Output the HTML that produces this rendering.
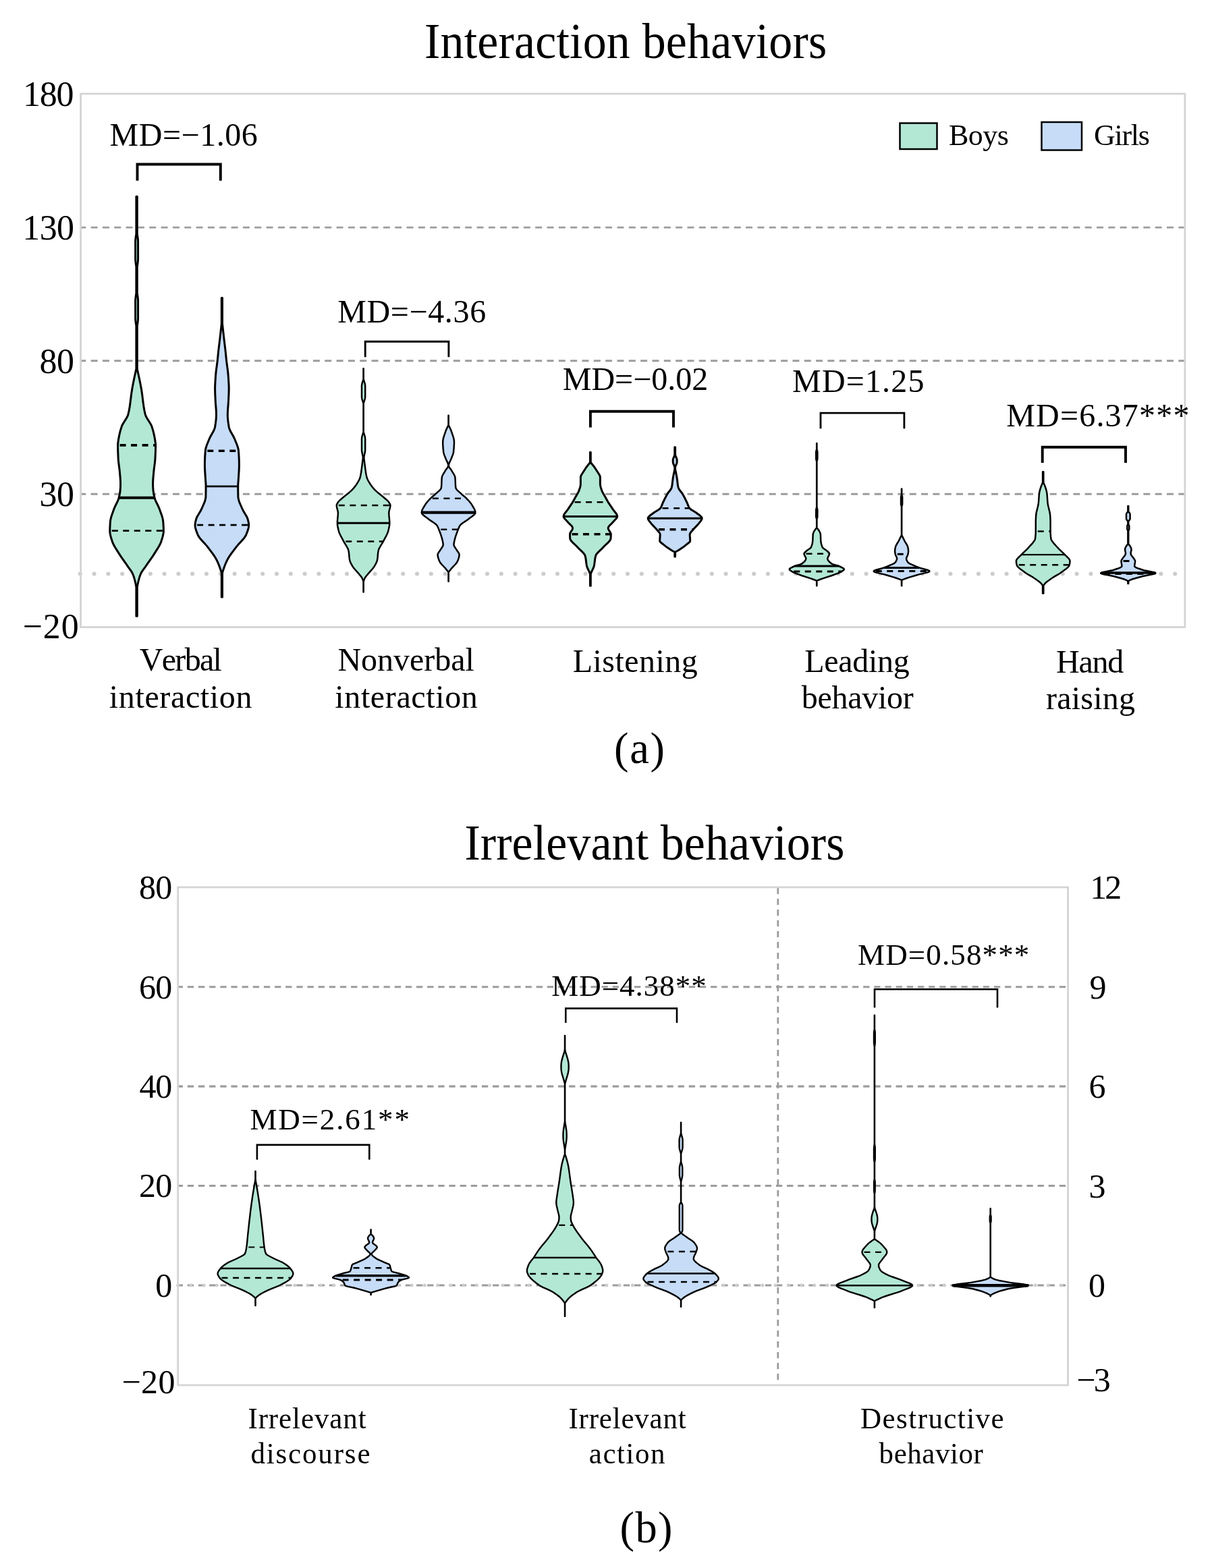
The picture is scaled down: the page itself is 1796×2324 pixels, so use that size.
<!DOCTYPE html>
<html lang="en"><head><meta charset="utf-8"><title>Interaction and irrelevant behaviors</title>
<style>
html,body{margin:0;padding:0;background:#fff;overflow:hidden}
svg{display:block}
text{font-family:"Liberation Serif", serif;fill:#000;white-space:pre;font-kerning:none}
</style></head>
<body>
<svg width="1796" height="2324" viewBox="0 0 1796 2324">
<rect width="1796" height="2324" fill="#fff"/>
<line x1="119.6" y1="337.1" x2="1755.9" y2="337.1" stroke="#9c9c9c" stroke-width="2.9" stroke-dasharray="10 7.33" stroke-dashoffset="2.3"/>
<line x1="119.6" y1="534.7" x2="1755.9" y2="534.7" stroke="#9c9c9c" stroke-width="2.9" stroke-dasharray="10 7.33" stroke-dashoffset="2.3"/>
<line x1="119.6" y1="732.3" x2="1755.9" y2="732.3" stroke="#9c9c9c" stroke-width="2.9" stroke-dasharray="10 7.33" stroke-dashoffset="2.3"/>
<line x1="118.8" y1="850.5" x2="1755.9" y2="850.5" stroke="#cccccc" stroke-width="6.1" stroke-linecap="round" stroke-dasharray="0.01 20.79"/>
<path d="M201.90,291.3 L201.90,346.9 L201.22,351.3 L200.86,354.1 L200.65,356.9 L200.60,359.3 L200.63,384.5 L200.74,386.5 L200.98,388.9 L201.90,395.3 L201.90,434.5 L200.89,441.7 L200.66,444.5 L200.60,446.9 L200.63,472.5 L200.75,474.5 L201.00,476.9 L201.90,482.9 L201.90,546.9 L199.93,555.7 L198.39,562.9 L197.03,569.7 L195.76,576.5 L194.66,583.7 L193.03,596.9 L192.25,602.5 L191.21,608.5 L190.05,613.7 L189.71,614.9 L189.26,616.1 L188.11,618.5 L186.72,620.9 L182.42,627.7 L181.33,629.7 L180.43,631.7 L179.01,636.1 L177.70,640.9 L176.69,645.3 L175.80,650.1 L174.93,655.7 L174.64,658.5 L174.61,662.1 L174.74,668.5 L175.07,676.9 L175.37,682.1 L175.79,686.1 L177.17,696.9 L178.08,706.9 L178.43,711.7 L178.58,715.3 L178.58,718.9 L178.42,722.9 L178.14,727.3 L177.78,730.1 L177.26,732.9 L176.13,737.7 L175.53,739.7 L174.93,741.3 L174.07,743.3 L170.55,750.5 L169.32,753.3 L165.85,762.9 L165.07,765.3 L164.39,767.7 L163.77,770.5 L163.41,773.3 L162.95,780.5 L162.80,786.5 L162.88,788.5 L163.11,790.5 L163.56,792.9 L164.14,795.3 L165.06,798.5 L166.43,802.9 L167.23,804.9 L168.37,807.3 L169.67,809.7 L171.09,812.1 L178.66,824.1 L181.11,827.7 L186.76,835.7 L189.79,840.1 L193.31,844.9 L194.94,847.3 L195.88,848.9 L196.64,850.5 L197.73,853.3 L198.67,856.1 L199.59,859.3 L200.38,862.5 L201.23,866.5 L201.90,870.1 L201.90,913.3 L203.30,913.3 L203.30,870.1 L203.97,866.5 L204.82,862.5 L205.61,859.3 L206.53,856.1 L207.47,853.3 L208.56,850.5 L209.32,848.9 L210.26,847.3 L211.89,844.9 L215.41,840.1 L218.44,835.7 L224.09,827.7 L226.54,824.1 L234.11,812.1 L235.53,809.7 L236.83,807.3 L237.97,804.9 L238.77,802.9 L240.14,798.5 L241.06,795.3 L241.64,792.9 L242.09,790.5 L242.32,788.5 L242.40,786.5 L242.25,780.5 L241.79,773.3 L241.43,770.5 L240.81,767.7 L240.13,765.3 L239.35,762.9 L235.88,753.3 L234.65,750.5 L231.13,743.3 L230.27,741.3 L229.67,739.7 L229.07,737.7 L227.94,732.9 L227.42,730.1 L227.06,727.3 L226.78,722.9 L226.62,718.9 L226.62,715.3 L226.77,711.7 L227.12,706.9 L228.03,696.9 L229.41,686.1 L229.83,682.1 L230.13,676.9 L230.46,668.5 L230.59,662.1 L230.56,658.5 L230.27,655.7 L229.40,650.1 L228.51,645.3 L227.50,640.9 L226.19,636.1 L224.77,631.7 L223.87,629.7 L222.78,627.7 L218.48,620.9 L217.09,618.5 L215.94,616.1 L215.49,614.9 L215.15,613.7 L213.99,608.5 L212.95,602.5 L212.17,596.9 L210.54,583.7 L209.44,576.5 L208.17,569.7 L206.81,562.9 L205.27,555.7 L203.30,546.9 L203.30,482.9 L203.98,478.5 L204.34,475.7 L204.55,472.9 L204.60,470.5 L204.57,445.3 L204.46,443.3 L204.22,440.9 L203.30,434.5 L203.30,395.3 L204.31,388.1 L204.54,385.3 L204.60,382.9 L204.57,357.3 L204.45,355.3 L204.20,352.9 L203.30,346.9 L203.30,291.3Z" fill="#b3e8d5" stroke="#000" stroke-width="3" stroke-linejoin="round"/>
<line x1="174.6" y1="659.9" x2="230.6" y2="659.9" stroke="#000" stroke-width="3.6" stroke-dasharray="9 7.5" stroke-dashoffset="-3"/>
<line x1="176.1" y1="737.8" x2="229.1" y2="737.8" stroke="#000" stroke-width="4"/>
<line x1="162.8" y1="786.6" x2="242.4" y2="786.6" stroke="#000" stroke-width="2.6" stroke-dasharray="9 7.5" stroke-dashoffset="-3"/>
<path d="M328.30,441.5 L328.30,479.9 L326.07,500.3 L323.80,519.1 L322.18,535.1 L320.44,548.3 L319.92,552.7 L319.53,557.1 L318.78,569.1 L318.65,572.7 L318.60,576.3 L318.76,583.9 L319.36,596.3 L320.27,607.9 L320.49,612.7 L320.49,615.1 L320.39,617.9 L320.19,620.7 L319.87,623.9 L319.34,627.9 L318.58,632.7 L318.32,633.9 L317.84,635.5 L317.03,637.5 L316.07,639.5 L311.82,647.1 L310.80,649.1 L310.08,650.7 L307.00,658.3 L305.96,661.1 L304.99,664.3 L304.43,667.1 L304.03,671.9 L303.66,678.3 L303.46,683.9 L303.40,689.1 L303.47,693.1 L303.67,697.5 L304.39,709.1 L304.93,716.3 L305.08,719.5 L305.07,726.7 L304.90,735.9 L304.79,737.5 L304.54,739.1 L303.84,741.9 L302.86,744.7 L301.70,747.5 L298.15,755.5 L296.65,758.3 L292.75,764.7 L291.90,766.3 L291.19,767.9 L290.65,769.5 L289.58,773.9 L289.20,776.3 L289.10,778.3 L289.19,779.9 L289.41,781.5 L289.74,783.1 L290.29,785.1 L291.24,787.9 L292.94,792.3 L293.49,793.5 L294.15,794.7 L295.48,796.7 L297.37,799.1 L299.49,801.5 L304.66,807.1 L307.05,809.9 L314.05,819.1 L316.94,823.1 L319.28,826.7 L321.05,829.9 L323.08,834.3 L325.14,839.5 L327.24,845.5 L328.24,848.7 L328.30,849.1 L328.30,885.1 L329.50,885.1 L329.50,849.1 L329.56,848.7 L330.56,845.5 L332.66,839.5 L334.72,834.3 L336.75,829.9 L338.52,826.7 L340.86,823.1 L343.75,819.1 L350.75,809.9 L353.14,807.1 L358.31,801.5 L360.43,799.1 L362.32,796.7 L363.65,794.7 L364.31,793.5 L364.86,792.3 L366.56,787.9 L367.51,785.1 L368.06,783.1 L368.39,781.5 L368.61,779.9 L368.70,778.3 L368.60,776.3 L368.22,773.9 L367.15,769.5 L366.61,767.9 L365.90,766.3 L365.05,764.7 L361.15,758.3 L359.65,755.5 L356.10,747.5 L354.94,744.7 L353.96,741.9 L353.26,739.1 L353.01,737.5 L352.90,735.9 L352.73,726.7 L352.72,719.5 L352.87,716.3 L353.41,709.1 L354.13,697.5 L354.33,693.1 L354.40,689.1 L354.34,683.9 L354.14,678.3 L353.77,671.9 L353.37,667.1 L352.81,664.3 L351.84,661.1 L350.80,658.3 L347.72,650.7 L347.00,649.1 L345.98,647.1 L341.73,639.5 L340.77,637.5 L339.96,635.5 L339.48,633.9 L339.22,632.7 L338.46,627.9 L337.93,623.9 L337.61,620.7 L337.41,617.9 L337.31,615.1 L337.31,612.7 L337.53,607.9 L338.44,596.3 L339.04,583.9 L339.20,576.3 L339.15,572.7 L339.02,569.1 L338.27,557.1 L337.88,552.7 L337.36,548.3 L335.62,535.1 L334.00,519.1 L331.73,500.3 L329.50,479.9 L329.50,441.5Z" fill="#c6dcf7" stroke="#000" stroke-width="3" stroke-linejoin="round"/>
<line x1="304.3" y1="668.3" x2="353.5" y2="668.3" stroke="#000" stroke-width="3.6" stroke-dasharray="9 7.5" stroke-dashoffset="-3"/>
<line x1="305.1" y1="720.9" x2="352.7" y2="720.9" stroke="#000" stroke-width="2.6"/>
<line x1="289.1" y1="778.1" x2="368.7" y2="778.1" stroke="#000" stroke-width="2.6" stroke-dasharray="9 7.5" stroke-dashoffset="-3"/>
<path d="M538.50,546.3 L538.50,561.9 L538.12,563.5 L536.96,567.1 L536.50,568.7 L536.12,570.7 L536.00,572.3 L536.00,587.9 L536.07,589.1 L536.24,590.3 L536.61,591.9 L538.12,596.7 L538.50,598.3 L538.50,639.5 L538.48,639.9 L538.21,641.1 L536.88,645.5 L536.46,647.1 L536.11,649.1 L536.00,650.7 L536.03,667.9 L536.29,669.9 L536.76,671.9 L537.66,676.3 L537.82,677.5 L537.88,678.7 L537.27,683.9 L535.56,697.1 L535.03,700.7 L534.46,703.9 L533.95,706.3 L533.43,708.3 L532.85,709.9 L532.10,711.5 L530.77,713.9 L528.55,717.5 L527.19,719.5 L525.68,721.5 L524.37,723.1 L522.61,725.1 L521.11,726.7 L519.86,727.9 L517.51,729.9 L511.49,734.7 L504.42,740.7 L502.30,742.7 L500.94,744.3 L499.74,746.3 L499.32,747.1 L498.99,747.9 L498.82,748.7 L498.80,749.1 L498.88,750.3 L499.06,751.5 L499.43,753.1 L500.49,757.1 L500.79,758.7 L500.89,759.9 L500.87,761.9 L500.75,763.9 L500.12,770.7 L499.96,773.1 L499.90,775.5 L500.00,777.5 L500.26,779.5 L500.70,781.9 L501.82,786.7 L502.16,787.9 L503.20,790.7 L504.92,794.3 L508.17,800.3 L510.04,803.9 L513.70,809.9 L514.62,811.5 L515.43,813.1 L515.94,814.3 L516.45,815.9 L516.87,818.3 L517.14,820.7 L517.66,826.7 L518.14,829.9 L518.44,831.1 L518.84,832.3 L519.33,833.5 L520.09,835.1 L522.30,839.1 L523.62,841.1 L525.57,843.5 L530.55,849.1 L534.84,854.3 L536.28,856.3 L536.74,857.1 L537.10,857.9 L538.07,860.7 L538.37,861.9 L538.50,862.7 L538.50,877.6 L538.70,877.6 L538.70,862.7 L538.83,861.9 L539.13,860.7 L540.10,857.9 L540.46,857.1 L540.92,856.3 L542.36,854.3 L546.65,849.1 L551.63,843.5 L553.58,841.1 L554.90,839.1 L557.11,835.1 L557.87,833.5 L558.36,832.3 L558.76,831.1 L559.06,829.9 L559.54,826.7 L560.06,820.7 L560.33,818.3 L560.75,815.9 L561.26,814.3 L561.77,813.1 L562.58,811.5 L563.50,809.9 L567.16,803.9 L569.03,800.3 L572.28,794.3 L574.00,790.7 L575.04,787.9 L575.38,786.7 L576.50,781.9 L576.94,779.5 L577.20,777.5 L577.30,775.5 L577.24,773.1 L577.08,770.7 L576.45,763.9 L576.33,761.9 L576.31,759.9 L576.41,758.7 L576.71,757.1 L577.77,753.1 L578.14,751.5 L578.32,750.3 L578.40,749.1 L578.38,748.7 L578.21,747.9 L577.88,747.1 L577.46,746.3 L576.26,744.3 L574.90,742.7 L572.78,740.7 L565.71,734.7 L559.69,729.9 L557.34,727.9 L556.09,726.7 L554.59,725.1 L552.83,723.1 L551.52,721.5 L550.01,719.5 L548.65,717.5 L546.43,713.9 L545.10,711.5 L544.35,709.9 L543.77,708.3 L543.25,706.3 L542.74,703.9 L542.17,700.7 L541.64,697.1 L539.93,683.9 L539.32,678.7 L539.38,677.5 L539.54,676.3 L540.44,671.9 L540.91,669.9 L541.17,667.9 L541.20,650.7 L541.09,649.1 L540.74,647.1 L540.32,645.5 L538.99,641.1 L538.72,639.9 L538.70,639.5 L538.70,598.3 L539.08,596.7 L540.59,591.9 L540.96,590.3 L541.13,589.1 L541.20,587.9 L541.20,572.3 L541.08,570.7 L540.70,568.7 L540.24,567.1 L539.08,563.5 L538.70,561.9 L538.70,546.3Z" fill="#b3e8d5" stroke="#000" stroke-width="2.5" stroke-linejoin="round"/>
<line x1="498.8" y1="749.0" x2="578.4" y2="749.0" stroke="#000" stroke-width="2.6" stroke-dasharray="9 7.5" stroke-dashoffset="-3"/>
<line x1="499.9" y1="775.3" x2="577.3" y2="775.3" stroke="#000" stroke-width="3"/>
<line x1="509.3" y1="802.5" x2="567.9" y2="802.5" stroke="#000" stroke-width="2.6" stroke-dasharray="9 7.5" stroke-dashoffset="-3"/>
<path d="M664.50,615.7 L664.50,630.1 L662.34,634.5 L661.11,637.3 L660.34,639.3 L657.99,646.1 L657.15,648.9 L656.59,651.3 L656.30,653.3 L656.20,655.3 L656.29,659.3 L656.53,663.3 L657.03,668.5 L657.21,670.1 L657.42,671.3 L657.73,672.5 L658.26,674.1 L660.79,680.5 L661.49,682.1 L663.05,685.3 L663.71,686.9 L664.07,688.1 L664.27,689.3 L664.29,690.1 L664.16,690.9 L663.87,691.7 L663.22,692.9 L660.01,697.3 L658.86,699.3 L656.89,702.5 L655.81,704.5 L655.16,706.1 L654.86,707.3 L654.61,709.7 L654.22,718.9 L653.97,722.1 L653.77,723.3 L653.23,724.5 L652.69,725.3 L652.03,726.1 L650.43,727.7 L646.79,730.9 L644.20,733.3 L640.32,736.5 L638.51,738.1 L635.44,741.3 L632.65,744.5 L631.12,746.5 L630.04,748.1 L627.41,752.5 L626.31,754.5 L625.58,756.1 L625.16,757.3 L624.90,758.5 L624.80,759.7 L624.92,760.5 L625.08,760.9 L625.54,761.7 L626.56,762.9 L627.91,764.1 L629.48,765.3 L633.98,768.5 L637.04,770.9 L643.62,775.3 L645.24,776.5 L646.19,777.3 L647.34,778.5 L647.89,779.3 L648.76,780.9 L649.61,782.9 L652.80,791.3 L653.76,794.1 L654.63,796.9 L655.47,800.1 L656.33,804.1 L656.60,805.7 L656.70,807.3 L656.60,808.1 L656.36,808.9 L655.55,810.5 L653.13,814.1 L651.92,816.1 L649.91,818.9 L649.41,819.7 L649.00,820.5 L648.72,821.3 L648.60,822.1 L648.65,823.3 L648.88,824.9 L649.38,826.9 L650.35,829.7 L651.32,832.1 L652.25,833.7 L653.14,834.9 L654.51,836.5 L659.82,842.1 L664.36,847.7 L664.50,848.1 L664.50,861.7 L664.70,861.7 L664.70,848.1 L664.84,847.7 L669.38,842.1 L674.69,836.5 L676.06,834.9 L676.95,833.7 L677.88,832.1 L678.85,829.7 L679.82,826.9 L680.32,824.9 L680.55,823.3 L680.60,822.1 L680.48,821.3 L680.20,820.5 L679.79,819.7 L679.29,818.9 L677.28,816.1 L676.07,814.1 L673.65,810.5 L672.84,808.9 L672.60,808.1 L672.50,807.3 L672.60,805.7 L672.87,804.1 L673.73,800.1 L674.57,796.9 L675.44,794.1 L676.40,791.3 L679.59,782.9 L680.44,780.9 L681.31,779.3 L681.86,778.5 L683.01,777.3 L683.96,776.5 L685.58,775.3 L692.16,770.9 L695.22,768.5 L699.72,765.3 L701.29,764.1 L702.64,762.9 L703.66,761.7 L704.12,760.9 L704.28,760.5 L704.40,759.7 L704.30,758.5 L704.04,757.3 L703.62,756.1 L702.89,754.5 L701.79,752.5 L699.16,748.1 L698.08,746.5 L696.55,744.5 L693.76,741.3 L690.69,738.1 L688.88,736.5 L685.00,733.3 L682.41,730.9 L678.77,727.7 L677.17,726.1 L676.51,725.3 L675.97,724.5 L675.43,723.3 L675.23,722.1 L674.98,718.9 L674.59,709.7 L674.34,707.3 L674.04,706.1 L673.39,704.5 L672.31,702.5 L670.34,699.3 L669.19,697.3 L665.98,692.9 L665.33,691.7 L665.04,690.9 L664.91,690.1 L664.93,689.3 L665.13,688.1 L665.49,686.9 L666.15,685.3 L667.71,682.1 L668.41,680.5 L670.94,674.1 L671.47,672.5 L671.78,671.3 L671.99,670.1 L672.17,668.5 L672.67,663.3 L672.91,659.3 L673.00,655.3 L672.90,653.3 L672.61,651.3 L672.05,648.9 L671.21,646.1 L668.86,639.3 L668.09,637.3 L666.86,634.5 L664.70,630.1 L664.70,615.7Z" fill="#c6dcf7" stroke="#000" stroke-width="2.5" stroke-linejoin="round"/>
<line x1="637.9" y1="738.7" x2="691.3" y2="738.7" stroke="#000" stroke-width="2.6" stroke-dasharray="9 7.5" stroke-dashoffset="-3"/>
<line x1="624.8" y1="759.7" x2="704.4" y2="759.7" stroke="#000" stroke-width="4.2"/>
<line x1="650.3" y1="784.7" x2="678.9" y2="784.7" stroke="#000" stroke-width="2.6" stroke-dasharray="9 7.5" stroke-dashoffset="-3"/>
<path d="M874.50,670.2 L874.50,685.4 L870.62,690.2 L867.71,694.2 L862.06,703.0 L861.39,704.2 L860.86,705.4 L860.51,706.6 L860.41,707.4 L860.40,717.4 L860.27,719.0 L859.98,720.6 L859.45,722.6 L858.17,726.6 L857.72,727.8 L856.97,729.4 L856.12,731.0 L853.57,735.4 L850.07,741.8 L847.92,745.4 L841.23,755.4 L837.43,760.2 L836.32,761.8 L835.68,763.0 L835.37,763.8 L835.17,764.6 L835.10,765.4 L835.21,766.2 L835.53,767.0 L836.01,767.8 L836.62,768.6 L837.71,769.8 L840.07,772.2 L842.14,774.6 L846.62,779.0 L847.30,779.8 L847.86,780.6 L848.44,781.8 L848.59,782.6 L848.59,783.0 L848.46,783.8 L848.17,784.6 L847.54,785.8 L845.94,788.2 L845.22,789.4 L844.70,790.6 L844.52,791.4 L844.55,794.6 L844.74,798.2 L844.93,799.0 L845.45,800.2 L846.53,801.8 L848.33,803.8 L853.90,809.0 L857.67,813.0 L862.30,817.4 L863.88,819.0 L864.94,820.2 L865.86,821.4 L866.59,822.6 L866.96,823.4 L867.43,825.0 L867.91,827.4 L868.98,835.8 L869.32,837.8 L869.67,839.4 L870.04,840.6 L870.66,842.2 L873.51,848.2 L874.47,850.6 L874.50,868.2 L875.30,868.2 L875.33,850.6 L876.29,848.2 L879.14,842.2 L879.76,840.6 L880.13,839.4 L880.48,837.8 L880.82,835.8 L881.89,827.4 L882.37,825.0 L882.84,823.4 L883.21,822.6 L883.94,821.4 L884.86,820.2 L885.92,819.0 L887.50,817.4 L892.13,813.0 L895.90,809.0 L901.47,803.8 L903.27,801.8 L904.35,800.2 L904.87,799.0 L905.06,798.2 L905.25,794.6 L905.28,791.4 L905.10,790.6 L904.58,789.4 L903.86,788.2 L902.26,785.8 L901.63,784.6 L901.34,783.8 L901.21,783.0 L901.21,782.6 L901.36,781.8 L901.94,780.6 L902.50,779.8 L903.18,779.0 L907.66,774.6 L909.73,772.2 L912.09,769.8 L913.18,768.6 L913.79,767.8 L914.27,767.0 L914.59,766.2 L914.70,765.4 L914.63,764.6 L914.43,763.8 L914.12,763.0 L913.48,761.8 L912.37,760.2 L908.57,755.4 L901.88,745.4 L899.73,741.8 L896.23,735.4 L893.68,731.0 L892.83,729.4 L892.08,727.8 L891.63,726.6 L890.35,722.6 L889.82,720.6 L889.53,719.0 L889.40,717.4 L889.39,707.4 L889.29,706.6 L888.94,705.4 L888.41,704.2 L887.74,703.0 L882.09,694.2 L879.18,690.2 L875.30,685.4 L875.30,670.2Z" fill="#b3e8d5" stroke="#000" stroke-width="3" stroke-linejoin="round"/>
<line x1="848.6" y1="744.3" x2="901.2" y2="744.3" stroke="#000" stroke-width="2.6" stroke-dasharray="9 7.5" stroke-dashoffset="-3"/>
<line x1="835.1" y1="765.4" x2="914.7" y2="765.4" stroke="#000" stroke-width="3"/>
<line x1="844.5" y1="791.8" x2="905.3" y2="791.8" stroke="#000" stroke-width="3.6" stroke-dasharray="9 7.5" stroke-dashoffset="-3"/>
<path d="M999.80,662.7 L999.80,674.7 L999.51,675.5 L998.19,678.3 L997.71,679.5 L997.30,681.1 L997.20,682.3 L997.21,684.7 L997.30,685.5 L997.47,686.3 L998.02,687.9 L999.51,691.1 L999.80,691.9 L999.80,695.5 L999.77,695.9 L998.32,702.7 L997.50,707.1 L997.01,710.3 L996.00,718.7 L995.48,721.5 L995.20,722.7 L994.94,723.5 L994.57,724.3 L993.85,725.5 L992.98,726.7 L989.82,730.7 L989.02,731.9 L987.88,733.9 L985.38,738.7 L982.11,745.5 L980.36,749.9 L979.82,751.1 L979.18,752.3 L978.37,753.5 L977.56,754.3 L975.93,755.5 L970.60,758.7 L969.37,759.5 L963.00,764.3 L961.66,765.5 L960.96,766.3 L960.47,767.1 L960.31,767.5 L960.20,768.3 L960.24,768.7 L960.44,769.5 L960.79,770.3 L961.26,771.1 L962.13,772.3 L964.95,775.9 L966.66,777.9 L972.00,783.5 L973.66,785.5 L976.54,788.7 L977.15,789.5 L977.65,790.3 L978.12,791.5 L978.20,792.3 L978.14,794.3 L977.79,799.1 L977.70,801.1 L977.73,801.9 L977.85,802.3 L978.06,802.7 L978.71,803.5 L979.58,804.3 L982.70,806.7 L985.61,809.1 L988.28,811.1 L991.16,813.1 L994.23,815.1 L996.23,816.3 L999.80,818.3 L999.80,825.1 L1000.60,825.1 L1000.60,818.3 L1004.17,816.3 L1006.17,815.1 L1009.24,813.1 L1012.12,811.1 L1014.79,809.1 L1017.70,806.7 L1020.82,804.3 L1021.69,803.5 L1022.34,802.7 L1022.55,802.3 L1022.67,801.9 L1022.70,801.1 L1022.61,799.1 L1022.26,794.3 L1022.20,792.3 L1022.28,791.5 L1022.75,790.3 L1023.25,789.5 L1023.86,788.7 L1026.74,785.5 L1028.40,783.5 L1033.74,777.9 L1035.45,775.9 L1038.27,772.3 L1039.14,771.1 L1039.61,770.3 L1039.96,769.5 L1040.16,768.7 L1040.20,768.3 L1040.09,767.5 L1039.93,767.1 L1039.44,766.3 L1038.74,765.5 L1037.40,764.3 L1031.03,759.5 L1029.80,758.7 L1024.47,755.5 L1022.84,754.3 L1022.03,753.5 L1021.22,752.3 L1020.58,751.1 L1020.04,749.9 L1018.29,745.5 L1015.02,738.7 L1012.52,733.9 L1011.38,731.9 L1010.58,730.7 L1007.42,726.7 L1006.55,725.5 L1005.83,724.3 L1005.46,723.5 L1005.20,722.7 L1004.92,721.5 L1004.40,718.7 L1003.39,710.3 L1002.90,707.1 L1002.08,702.7 L1000.63,695.9 L1000.60,695.5 L1000.60,691.9 L1000.89,691.1 L1002.21,688.3 L1002.69,687.1 L1003.10,685.5 L1003.20,684.3 L1003.19,681.9 L1003.10,681.1 L1002.93,680.3 L1002.38,678.7 L1000.89,675.5 L1000.60,674.7 L1000.60,662.7Z" fill="#c6dcf7" stroke="#000" stroke-width="3" stroke-linejoin="round"/>
<line x1="978.6" y1="753.2" x2="1021.8" y2="753.2" stroke="#000" stroke-width="2.6" stroke-dasharray="9 7.5" stroke-dashoffset="-3"/>
<line x1="960.2" y1="768.2" x2="1040.2" y2="768.2" stroke="#000" stroke-width="3"/>
<line x1="973.0" y1="784.7" x2="1027.4" y2="784.7" stroke="#000" stroke-width="3.6" stroke-dasharray="9 7.5" stroke-dashoffset="-3"/>
<path d="M1210.20,657.0 L1210.20,665.8 L1210.16,666.2 L1209.45,668.6 L1209.30,669.4 L1209.25,670.2 L1209.28,680.2 L1209.50,681.4 L1210.20,683.8 L1210.20,751.8 L1210.13,752.2 L1209.42,754.6 L1209.29,755.4 L1209.25,756.2 L1209.26,765.8 L1209.42,767.0 L1210.13,769.4 L1210.20,769.8 L1210.20,781.8 L1210.14,782.2 L1207.97,785.0 L1206.62,787.0 L1205.57,789.0 L1204.99,790.6 L1204.80,791.4 L1204.67,792.6 L1204.36,800.6 L1204.25,802.2 L1204.05,803.8 L1203.65,805.8 L1203.23,807.4 L1202.55,809.4 L1201.90,811.0 L1201.38,811.8 L1200.09,813.0 L1196.05,815.8 L1194.51,817.0 L1192.47,819.0 L1191.81,819.8 L1191.60,820.2 L1191.50,820.6 L1191.51,821.0 L1191.81,822.2 L1192.39,823.4 L1193.72,825.8 L1194.06,826.6 L1194.26,827.4 L1194.29,828.2 L1194.14,829.0 L1193.82,829.8 L1193.36,830.6 L1192.43,831.8 L1191.24,833.0 L1188.83,835.0 L1188.30,835.4 L1187.60,835.8 L1185.42,836.6 L1179.89,838.2 L1177.62,839.0 L1173.25,841.0 L1171.72,841.8 L1170.55,842.6 L1170.15,843.0 L1169.89,843.4 L1169.80,843.8 L1169.89,844.2 L1170.13,844.6 L1170.50,845.0 L1171.51,845.8 L1173.93,847.4 L1175.43,848.2 L1177.21,849.0 L1180.23,850.2 L1187.83,853.0 L1201.36,857.4 L1205.83,859.0 L1210.04,860.6 L1210.20,861.0 L1210.20,868.2 L1210.40,868.2 L1210.40,861.0 L1210.56,860.6 L1214.77,859.0 L1219.24,857.4 L1232.77,853.0 L1240.37,850.2 L1243.39,849.0 L1245.17,848.2 L1246.67,847.4 L1249.09,845.8 L1250.10,845.0 L1250.47,844.6 L1250.71,844.2 L1250.80,843.8 L1250.71,843.4 L1250.45,843.0 L1250.05,842.6 L1248.88,841.8 L1247.35,841.0 L1242.98,839.0 L1240.71,838.2 L1235.18,836.6 L1233.00,835.8 L1232.30,835.4 L1231.77,835.0 L1229.36,833.0 L1228.17,831.8 L1227.24,830.6 L1226.78,829.8 L1226.46,829.0 L1226.31,828.2 L1226.34,827.4 L1226.54,826.6 L1226.88,825.8 L1228.21,823.4 L1228.79,822.2 L1229.09,821.0 L1229.10,820.6 L1229.00,820.2 L1228.79,819.8 L1228.13,819.0 L1226.09,817.0 L1224.55,815.8 L1220.51,813.0 L1219.22,811.8 L1218.70,811.0 L1218.05,809.4 L1217.37,807.4 L1216.95,805.8 L1216.55,803.8 L1216.35,802.2 L1216.24,800.6 L1215.93,792.6 L1215.80,791.4 L1215.61,790.6 L1215.03,789.0 L1213.98,787.0 L1212.63,785.0 L1210.46,782.2 L1210.40,781.8 L1210.40,769.8 L1210.47,769.4 L1211.18,767.0 L1211.34,765.8 L1211.35,756.2 L1211.31,755.4 L1211.18,754.6 L1210.47,752.2 L1210.40,751.8 L1210.40,683.8 L1211.10,681.4 L1211.32,680.2 L1211.35,670.2 L1211.30,669.4 L1211.15,668.6 L1210.44,666.2 L1210.40,665.8 L1210.40,657.0Z" fill="#b3e8d5" stroke="#000" stroke-width="2.5" stroke-linejoin="round"/>
<line x1="1191.5" y1="820.7" x2="1229.1" y2="820.7" stroke="#000" stroke-width="2.6" stroke-dasharray="9 7.5" stroke-dashoffset="-3"/>
<line x1="1177.4" y1="839.1" x2="1243.2" y2="839.1" stroke="#000" stroke-width="3"/>
<line x1="1173.3" y1="847.0" x2="1247.3" y2="847.0" stroke="#000" stroke-width="3" stroke-dasharray="9 7.5" stroke-dashoffset="-3"/>
<path d="M1336.00,724.6 L1336.00,733.0 L1335.93,733.4 L1335.22,735.8 L1335.09,736.6 L1335.05,737.4 L1335.06,747.0 L1335.22,748.2 L1335.93,750.6 L1336.00,751.0 L1336.00,793.0 L1335.90,793.4 L1331.70,801.8 L1330.79,803.4 L1328.59,807.0 L1327.75,808.6 L1327.11,810.2 L1326.57,812.6 L1326.29,814.2 L1326.12,815.8 L1326.11,817.0 L1326.24,818.6 L1326.72,821.4 L1326.95,822.2 L1327.27,823.0 L1328.61,825.8 L1329.00,827.0 L1329.09,828.2 L1328.98,829.0 L1328.76,829.8 L1328.44,830.6 L1327.81,831.8 L1327.05,833.0 L1326.45,833.8 L1325.46,834.6 L1323.27,835.8 L1313.87,839.8 L1309.80,841.4 L1307.33,842.2 L1299.86,844.2 L1297.29,845.0 L1296.27,845.4 L1295.48,845.8 L1294.98,846.2 L1294.80,846.6 L1294.98,847.0 L1295.49,847.4 L1296.30,847.8 L1297.37,848.2 L1298.64,848.6 L1301.69,849.4 L1310.28,851.4 L1313.27,852.2 L1323.84,855.4 L1328.83,857.0 L1333.23,858.6 L1336.00,859.8 L1336.00,868.2 L1336.20,868.2 L1336.20,859.8 L1338.97,858.6 L1343.37,857.0 L1348.36,855.4 L1358.93,852.2 L1361.92,851.4 L1370.51,849.4 L1373.56,848.6 L1374.83,848.2 L1375.90,847.8 L1376.71,847.4 L1377.22,847.0 L1377.40,846.6 L1377.22,846.2 L1376.72,845.8 L1375.93,845.4 L1374.91,845.0 L1372.34,844.2 L1364.87,842.2 L1362.40,841.4 L1358.33,839.8 L1348.93,835.8 L1346.74,834.6 L1345.75,833.8 L1345.15,833.0 L1344.39,831.8 L1343.76,830.6 L1343.44,829.8 L1343.22,829.0 L1343.11,828.2 L1343.20,827.0 L1343.59,825.8 L1344.93,823.0 L1345.25,822.2 L1345.48,821.4 L1345.96,818.6 L1346.09,817.0 L1346.08,815.8 L1345.91,814.2 L1345.63,812.6 L1345.09,810.2 L1344.45,808.6 L1343.61,807.0 L1341.41,803.4 L1340.50,801.8 L1336.30,793.4 L1336.20,793.0 L1336.20,751.0 L1336.27,750.6 L1336.98,748.2 L1337.11,747.4 L1337.15,746.6 L1337.14,737.0 L1336.98,735.8 L1336.27,733.4 L1336.20,733.0 L1336.20,724.6Z" fill="#c6dcf7" stroke="#000" stroke-width="2.5" stroke-linejoin="round"/>
<line x1="1326.7" y1="821.3" x2="1345.5" y2="821.3" stroke="#000" stroke-width="3" stroke-dasharray="9 7.5" stroke-dashoffset="-3"/>
<line x1="1309.8" y1="841.4" x2="1362.4" y2="841.4" stroke="#000" stroke-width="3"/>
<line x1="1294.8" y1="846.6" x2="1377.4" y2="846.6" stroke="#000" stroke-width="3" stroke-dasharray="9 7.5" stroke-dashoffset="-3"/>
<path d="M1545.10,699.3 L1545.10,715.3 L1543.41,719.3 L1542.21,722.5 L1541.20,725.7 L1540.42,728.9 L1540.00,731.3 L1539.73,733.7 L1539.09,743.3 L1538.69,746.9 L1537.98,750.5 L1536.03,758.5 L1535.63,760.5 L1535.34,762.5 L1535.00,767.3 L1534.82,771.7 L1534.80,787.7 L1534.75,790.1 L1534.38,795.3 L1534.06,798.1 L1533.87,798.9 L1533.60,799.7 L1533.04,800.9 L1532.32,802.1 L1531.46,803.3 L1529.82,805.3 L1525.83,809.7 L1524.09,811.7 L1521.77,814.1 L1515.41,820.1 L1512.75,822.9 L1509.00,826.5 L1507.52,828.1 L1506.65,829.3 L1506.23,830.1 L1505.98,830.9 L1505.90,831.7 L1505.99,833.3 L1506.21,834.9 L1506.70,837.3 L1506.97,838.1 L1507.39,838.9 L1507.96,839.7 L1508.66,840.5 L1509.90,841.7 L1511.34,842.9 L1512.91,844.1 L1520.69,849.7 L1523.88,851.7 L1530.73,855.7 L1533.82,857.7 L1538.31,860.9 L1540.41,862.5 L1542.22,864.1 L1543.32,865.3 L1544.48,866.9 L1544.97,867.7 L1545.10,868.1 L1545.10,879.5 L1546.30,879.5 L1546.30,868.1 L1546.43,867.7 L1546.92,866.9 L1548.08,865.3 L1549.18,864.1 L1550.99,862.5 L1553.09,860.9 L1557.58,857.7 L1560.67,855.7 L1567.52,851.7 L1570.71,849.7 L1578.49,844.1 L1580.06,842.9 L1581.50,841.7 L1582.74,840.5 L1583.44,839.7 L1584.01,838.9 L1584.43,838.1 L1584.70,837.3 L1585.19,834.9 L1585.41,833.3 L1585.50,831.7 L1585.42,830.9 L1585.17,830.1 L1584.75,829.3 L1583.88,828.1 L1582.40,826.5 L1578.65,822.9 L1575.99,820.1 L1569.63,814.1 L1567.31,811.7 L1565.57,809.7 L1561.58,805.3 L1559.94,803.3 L1559.08,802.1 L1558.36,800.9 L1557.80,799.7 L1557.53,798.9 L1557.34,798.1 L1557.02,795.3 L1556.65,790.1 L1556.60,787.7 L1556.58,771.7 L1556.40,767.3 L1556.06,762.5 L1555.77,760.5 L1555.37,758.5 L1553.42,750.5 L1552.71,746.9 L1552.31,743.3 L1551.67,733.7 L1551.40,731.3 L1550.98,728.9 L1550.20,725.7 L1549.19,722.5 L1547.99,719.3 L1546.30,715.3 L1546.30,699.3Z" fill="#b3e8d5" stroke="#000" stroke-width="2.5" stroke-linejoin="round"/>
<line x1="1534.8" y1="787.5" x2="1556.6" y2="787.5" stroke="#000" stroke-width="2.4" stroke-dasharray="9 7.5" stroke-dashoffset="-3"/>
<line x1="1513.4" y1="822.2" x2="1578.0" y2="822.2" stroke="#000" stroke-width="2.2"/>
<line x1="1506.7" y1="837.3" x2="1584.7" y2="837.3" stroke="#000" stroke-width="2.4" stroke-dasharray="9 7.5" stroke-dashoffset="-3"/>
<path d="M1671.40,750.0 L1671.36,758.4 L1670.05,760.0 L1669.48,760.8 L1669.11,761.6 L1669.00,762.4 L1669.00,768.8 L1669.06,769.2 L1669.18,769.6 L1669.61,770.4 L1671.21,772.4 L1671.40,772.8 L1671.40,777.2 L1670.50,778.8 L1670.36,779.2 L1670.30,780.0 L1670.32,784.4 L1670.59,785.2 L1671.33,786.4 L1671.40,786.8 L1671.40,806.4 L1669.71,808.4 L1668.61,810.0 L1667.78,811.6 L1667.27,813.2 L1667.11,814.4 L1667.16,815.6 L1667.83,818.8 L1667.99,820.0 L1667.97,820.8 L1667.77,821.6 L1667.41,822.4 L1666.92,823.2 L1663.83,827.2 L1662.04,830.0 L1661.65,830.8 L1661.54,831.2 L1661.51,832.0 L1661.61,833.2 L1662.35,838.0 L1662.39,839.2 L1662.25,839.6 L1661.92,840.0 L1661.43,840.4 L1660.80,840.8 L1659.16,841.6 L1656.03,842.8 L1650.20,844.8 L1648.86,845.2 L1647.18,845.6 L1634.85,848.0 L1633.28,848.4 L1632.09,848.8 L1631.37,849.2 L1631.22,849.6 L1631.65,850.0 L1632.58,850.4 L1633.92,850.8 L1637.55,851.6 L1646.16,853.2 L1649.82,854.0 L1661.68,857.2 L1664.31,858.0 L1666.65,858.8 L1668.59,859.6 L1669.39,860.0 L1670.11,860.4 L1671.31,861.2 L1671.40,861.6 L1671.40,865.0 L1672.20,865.0 L1672.20,861.6 L1672.29,861.2 L1673.49,860.4 L1674.21,860.0 L1675.01,859.6 L1676.95,858.8 L1679.29,858.0 L1681.92,857.2 L1693.78,854.0 L1697.44,853.2 L1706.05,851.6 L1709.68,850.8 L1711.02,850.4 L1711.95,850.0 L1712.38,849.6 L1712.23,849.2 L1711.51,848.8 L1710.32,848.4 L1708.75,848.0 L1696.42,845.6 L1694.74,845.2 L1693.40,844.8 L1687.57,842.8 L1684.44,841.6 L1682.80,840.8 L1682.17,840.4 L1681.68,840.0 L1681.35,839.6 L1681.21,839.2 L1681.25,838.0 L1681.99,833.2 L1682.09,832.0 L1682.06,831.2 L1681.95,830.8 L1681.56,830.0 L1679.77,827.2 L1676.68,823.2 L1676.19,822.4 L1675.83,821.6 L1675.63,820.8 L1675.61,820.0 L1675.77,818.8 L1676.44,815.6 L1676.49,814.4 L1676.33,813.2 L1675.82,811.6 L1674.99,810.0 L1673.89,808.4 L1672.20,806.4 L1672.20,786.8 L1672.27,786.4 L1672.79,785.6 L1673.18,784.8 L1673.30,784.0 L1673.30,779.6 L1673.24,779.2 L1672.90,778.4 L1672.20,777.2 L1672.20,772.8 L1672.39,772.4 L1673.70,770.8 L1674.23,770.0 L1674.54,769.2 L1674.60,768.4 L1674.60,762.4 L1674.49,761.6 L1674.34,761.2 L1673.85,760.4 L1672.24,758.4 L1672.20,750.0Z" fill="#c6dcf7" stroke="#000" stroke-width="2.5" stroke-linejoin="round"/>
<line x1="1661.5" y1="831.6" x2="1682.1" y2="831.6" stroke="#000" stroke-width="3" stroke-dasharray="9 7.5" stroke-dashoffset="-3"/>
<line x1="1631.7" y1="849.0" x2="1711.9" y2="849.0" stroke="#000" stroke-width="3.5"/>
<line x1="1632.9" y1="850.5" x2="1710.7" y2="850.5" stroke="#000" stroke-width="3" stroke-dasharray="9 7.5" stroke-dashoffset="-3"/>
<rect x="119.6" y="139.0" width="1636.3" height="790.5" fill="none" stroke="#d4d4d4" stroke-width="2.8"/>
<line x1="263.7" y1="1462.7" x2="1582.6" y2="1462.7" stroke="#9c9c9c" stroke-width="3.1" stroke-dasharray="9.3 6.85" stroke-dashoffset="2"/>
<line x1="263.7" y1="1610.1" x2="1582.6" y2="1610.1" stroke="#9c9c9c" stroke-width="3.1" stroke-dasharray="9.3 6.85" stroke-dashoffset="2"/>
<line x1="263.7" y1="1757.5" x2="1582.6" y2="1757.5" stroke="#9c9c9c" stroke-width="3.1" stroke-dasharray="9.3 6.85" stroke-dashoffset="2"/>
<line x1="263.7" y1="1905.0" x2="1582.6" y2="1905.0" stroke="#9c9c9c" stroke-width="3.1" stroke-dasharray="9.3 6.85" stroke-dashoffset="2"/>
<line x1="263.6" y1="1905.0" x2="1582.6" y2="1905.0" stroke="#cdcdcd" stroke-width="5" stroke-linecap="round" stroke-dasharray="0.01 19.24"/>
<line x1="1152.8" y1="1315.0" x2="1152.8" y2="2053.0" stroke="#9c9c9c" stroke-width="2.8" stroke-dasharray="9.2 6.8" stroke-dashoffset="-1"/>
<path d="M378.40,1736.0 L378.40,1748.4 L378.35,1748.8 L376.71,1758.0 L375.24,1766.8 L373.86,1775.6 L372.59,1784.4 L371.09,1796.0 L369.34,1810.8 L367.22,1830.4 L366.24,1840.8 L365.71,1845.6 L365.07,1850.0 L364.58,1852.8 L364.11,1854.8 L363.48,1856.8 L363.00,1858.0 L362.47,1858.8 L361.60,1859.6 L359.82,1860.8 L357.63,1862.0 L349.74,1866.0 L340.71,1870.0 L338.25,1871.2 L336.82,1872.0 L334.95,1873.2 L331.52,1875.6 L329.52,1877.2 L327.83,1878.8 L327.12,1879.6 L324.95,1882.4 L323.85,1884.0 L323.20,1885.2 L322.76,1886.4 L322.60,1887.6 L322.75,1888.8 L322.99,1889.6 L323.32,1890.4 L324.20,1892.0 L325.79,1894.4 L326.48,1895.2 L327.77,1896.4 L329.34,1897.6 L331.14,1898.8 L333.13,1900.0 L335.98,1901.6 L341.99,1904.8 L343.61,1905.6 L347.33,1907.2 L355.46,1910.4 L358.34,1911.6 L360.09,1912.4 L365.80,1915.2 L368.83,1916.8 L371.55,1918.4 L373.30,1919.6 L375.32,1921.2 L377.46,1923.2 L378.18,1924.0 L378.40,1924.4 L378.40,1935.0 L378.60,1935.0 L378.60,1924.4 L378.82,1924.0 L379.54,1923.2 L381.68,1921.2 L383.70,1919.6 L385.45,1918.4 L388.17,1916.8 L391.20,1915.2 L396.91,1912.4 L398.66,1911.6 L401.54,1910.4 L409.67,1907.2 L413.39,1905.6 L415.01,1904.8 L421.02,1901.6 L423.87,1900.0 L425.86,1898.8 L427.66,1897.6 L429.23,1896.4 L430.52,1895.2 L431.21,1894.4 L432.80,1892.0 L433.68,1890.4 L434.01,1889.6 L434.25,1888.8 L434.40,1887.6 L434.24,1886.4 L433.80,1885.2 L433.15,1884.0 L432.05,1882.4 L429.88,1879.6 L429.17,1878.8 L427.48,1877.2 L425.48,1875.6 L422.05,1873.2 L420.18,1872.0 L418.75,1871.2 L416.29,1870.0 L407.26,1866.0 L399.37,1862.0 L397.18,1860.8 L395.40,1859.6 L394.53,1858.8 L394.00,1858.0 L393.52,1856.8 L392.89,1854.8 L392.42,1852.8 L391.93,1850.0 L391.29,1845.6 L390.76,1840.8 L389.78,1830.4 L387.66,1810.8 L385.91,1796.0 L384.41,1784.4 L383.14,1775.6 L381.76,1766.8 L380.29,1758.0 L378.65,1748.8 L378.60,1748.4 L378.60,1736.0Z" fill="#b3e8d5" stroke="#000" stroke-width="2.4" stroke-linejoin="round"/>
<line x1="365.3" y1="1848.5" x2="391.7" y2="1848.5" stroke="#000" stroke-width="2.2" stroke-dasharray="9 7.5" stroke-dashoffset="-3"/>
<line x1="326.8" y1="1880.0" x2="430.2" y2="1880.0" stroke="#000" stroke-width="2.5"/>
<line x1="325.5" y1="1894.0" x2="431.5" y2="1894.0" stroke="#000" stroke-width="2.5" stroke-dasharray="9 7.5" stroke-dashoffset="-3"/>
<path d="M549.50,1822.5 L549.50,1828.9 L549.23,1829.3 L547.49,1830.9 L546.45,1832.1 L545.91,1832.9 L545.50,1833.7 L545.15,1834.9 L545.11,1835.7 L545.26,1836.5 L545.57,1837.3 L546.94,1840.1 L547.16,1840.9 L547.16,1841.7 L547.01,1842.1 L546.76,1842.5 L546.00,1843.3 L545.00,1844.1 L542.21,1846.1 L541.28,1846.9 L540.64,1847.7 L540.46,1848.1 L540.40,1848.5 L540.44,1848.9 L540.74,1849.7 L541.62,1850.9 L543.97,1853.3 L545.06,1854.5 L547.74,1856.9 L548.36,1857.7 L548.54,1858.1 L548.60,1858.5 L548.56,1858.9 L548.27,1859.7 L547.73,1860.5 L546.98,1861.3 L545.57,1862.5 L541.72,1865.3 L540.40,1866.1 L537.10,1867.7 L528.83,1871.3 L523.81,1873.3 L523.00,1873.7 L522.37,1874.1 L521.96,1874.5 L521.42,1875.7 L519.86,1881.7 L519.45,1882.9 L518.80,1884.1 L518.29,1884.5 L517.35,1884.9 L516.08,1885.3 L507.93,1887.3 L501.25,1889.3 L498.89,1890.1 L497.92,1890.5 L495.47,1891.7 L494.07,1892.5 L493.58,1892.9 L493.27,1893.3 L493.22,1893.7 L493.72,1894.1 L494.75,1894.5 L496.18,1894.9 L501.39,1896.1 L502.94,1896.5 L504.16,1896.9 L504.97,1897.3 L506.31,1898.1 L507.95,1899.3 L509.14,1900.5 L509.44,1900.9 L509.89,1901.7 L510.63,1903.7 L511.02,1904.5 L511.61,1905.3 L512.13,1905.7 L513.12,1906.1 L514.49,1906.5 L518.02,1907.3 L523.83,1908.5 L529.97,1910.1 L541.18,1913.3 L548.71,1915.7 L549.50,1916.1 L549.50,1919.1 L549.70,1919.1 L549.70,1916.1 L550.49,1915.7 L558.02,1913.3 L569.23,1910.1 L575.37,1908.5 L581.18,1907.3 L584.71,1906.5 L586.08,1906.1 L587.07,1905.7 L587.59,1905.3 L588.18,1904.5 L588.57,1903.7 L589.31,1901.7 L589.76,1900.9 L590.06,1900.5 L591.25,1899.3 L592.89,1898.1 L594.23,1897.3 L595.04,1896.9 L596.26,1896.5 L597.81,1896.1 L603.02,1894.9 L604.45,1894.5 L605.48,1894.1 L605.98,1893.7 L605.93,1893.3 L605.62,1892.9 L605.13,1892.5 L603.73,1891.7 L601.28,1890.5 L600.31,1890.1 L597.95,1889.3 L591.27,1887.3 L583.12,1885.3 L581.85,1884.9 L580.91,1884.5 L580.40,1884.1 L579.75,1882.9 L579.34,1881.7 L577.78,1875.7 L577.24,1874.5 L576.83,1874.1 L576.20,1873.7 L575.39,1873.3 L570.37,1871.3 L562.10,1867.7 L558.80,1866.1 L557.48,1865.3 L553.63,1862.5 L552.22,1861.3 L551.47,1860.5 L550.93,1859.7 L550.64,1858.9 L550.60,1858.5 L550.66,1858.1 L550.84,1857.7 L551.46,1856.9 L554.14,1854.5 L555.23,1853.3 L557.58,1850.9 L558.46,1849.7 L558.76,1848.9 L558.80,1848.5 L558.74,1848.1 L558.56,1847.7 L557.92,1846.9 L556.99,1846.1 L554.20,1844.1 L553.20,1843.3 L552.44,1842.5 L552.19,1842.1 L552.04,1841.7 L552.04,1840.9 L552.26,1840.1 L553.63,1837.3 L553.94,1836.5 L554.09,1835.7 L554.05,1834.9 L553.70,1833.7 L553.29,1832.9 L552.75,1832.1 L551.71,1830.9 L549.97,1829.3 L549.70,1828.9 L549.70,1822.5Z" fill="#c6dcf7" stroke="#000" stroke-width="2.4" stroke-linejoin="round"/>
<line x1="520.5" y1="1879.3" x2="578.7" y2="1879.3" stroke="#000" stroke-width="2.5" stroke-dasharray="9 7.5" stroke-dashoffset="-3"/>
<line x1="497.5" y1="1890.7" x2="601.7" y2="1890.7" stroke="#000" stroke-width="3.6"/>
<line x1="504.6" y1="1897.1" x2="594.6" y2="1897.1" stroke="#000" stroke-width="3" stroke-dasharray="9 7.5" stroke-dashoffset="-3"/>
<path d="M837.00,1534.9 L836.99,1555.3 L836.62,1557.3 L836.12,1559.3 L833.42,1568.1 L832.38,1572.1 L831.99,1574.1 L831.71,1576.1 L831.54,1578.1 L831.50,1580.1 L831.50,1582.9 L831.59,1584.9 L831.81,1586.9 L832.21,1589.3 L832.66,1591.3 L833.30,1593.7 L836.12,1602.9 L836.62,1604.9 L836.99,1606.9 L836.99,1661.7 L836.63,1664.5 L835.36,1672.1 L834.87,1675.7 L834.55,1679.7 L834.50,1684.1 L834.60,1687.3 L834.94,1690.9 L835.39,1694.1 L836.60,1701.3 L836.97,1704.1 L837.00,1710.1 L836.93,1710.5 L834.90,1716.9 L833.77,1720.9 L832.68,1725.3 L831.88,1729.3 L830.80,1736.1 L828.77,1751.3 L826.25,1766.9 L824.77,1776.9 L824.44,1779.7 L824.33,1781.3 L824.30,1782.9 L824.40,1784.5 L824.62,1786.1 L825.02,1788.1 L826.70,1795.3 L828.06,1800.5 L828.41,1802.5 L828.50,1803.7 L828.47,1805.3 L828.30,1807.3 L828.05,1809.3 L827.76,1810.5 L827.14,1812.1 L824.74,1816.9 L822.69,1820.5 L819.80,1824.9 L816.66,1829.3 L811.32,1836.5 L808.74,1839.7 L802.38,1847.3 L799.57,1850.9 L796.78,1854.9 L790.76,1864.1 L789.28,1866.1 L786.11,1870.1 L784.43,1872.5 L783.35,1874.5 L781.85,1878.5 L781.18,1880.9 L780.98,1882.1 L780.90,1883.3 L780.94,1884.1 L781.07,1884.9 L781.39,1886.1 L781.81,1887.3 L782.62,1889.3 L783.80,1891.3 L785.00,1892.9 L786.80,1894.9 L788.87,1896.9 L791.65,1899.3 L794.69,1901.7 L798.43,1904.5 L799.57,1905.3 L800.90,1906.1 L802.37,1906.9 L804.81,1908.1 L812.82,1911.7 L816.22,1913.3 L818.50,1914.5 L820.46,1915.7 L825.09,1918.9 L827.19,1920.5 L828.65,1921.7 L831.24,1924.1 L833.73,1926.9 L835.55,1929.3 L836.32,1930.5 L837.00,1931.7 L837.00,1950.9 L837.20,1950.9 L837.20,1931.7 L837.88,1930.5 L838.65,1929.3 L840.47,1926.9 L842.96,1924.1 L845.55,1921.7 L847.01,1920.5 L849.11,1918.9 L853.74,1915.7 L855.70,1914.5 L857.98,1913.3 L861.38,1911.7 L869.39,1908.1 L871.83,1906.9 L873.30,1906.1 L874.63,1905.3 L875.77,1904.5 L879.51,1901.7 L882.55,1899.3 L885.33,1896.9 L887.40,1894.9 L889.20,1892.9 L890.40,1891.3 L891.58,1889.3 L892.39,1887.3 L892.81,1886.1 L893.13,1884.9 L893.26,1884.1 L893.30,1883.3 L893.22,1882.1 L893.02,1880.9 L892.35,1878.5 L890.85,1874.5 L889.77,1872.5 L888.09,1870.1 L884.92,1866.1 L883.44,1864.1 L877.42,1854.9 L874.63,1850.9 L871.82,1847.3 L865.46,1839.7 L862.88,1836.5 L857.54,1829.3 L854.40,1824.9 L851.51,1820.5 L849.46,1816.9 L847.06,1812.1 L846.44,1810.5 L846.15,1809.3 L845.90,1807.3 L845.73,1805.3 L845.70,1803.7 L845.79,1802.5 L846.14,1800.5 L847.50,1795.3 L849.18,1788.1 L849.58,1786.1 L849.80,1784.5 L849.90,1782.9 L849.87,1781.3 L849.76,1779.7 L849.43,1776.9 L847.95,1766.9 L845.43,1751.3 L843.40,1736.1 L842.32,1729.3 L841.52,1725.3 L840.43,1720.9 L839.30,1716.9 L837.27,1710.5 L837.20,1710.1 L837.23,1704.1 L837.60,1701.3 L838.81,1694.1 L839.26,1690.9 L839.60,1687.3 L839.70,1684.1 L839.65,1679.7 L839.33,1675.7 L838.84,1672.1 L837.57,1664.5 L837.21,1661.7 L837.21,1606.9 L837.58,1604.9 L838.08,1602.9 L840.78,1594.1 L841.82,1590.1 L842.21,1588.1 L842.49,1586.1 L842.66,1584.1 L842.70,1582.1 L842.70,1579.3 L842.61,1577.3 L842.39,1575.3 L841.99,1572.9 L841.54,1570.9 L840.90,1568.5 L838.08,1559.3 L837.58,1557.3 L837.21,1555.3 L837.20,1534.9Z" fill="#b3e8d5" stroke="#000" stroke-width="2.4" stroke-linejoin="round"/>
<line x1="825.3" y1="1815.8" x2="848.9" y2="1815.8" stroke="#000" stroke-width="2.2" stroke-dasharray="9 7.5" stroke-dashoffset="-3"/>
<line x1="790.9" y1="1863.9" x2="883.3" y2="1863.9" stroke="#000" stroke-width="2.5"/>
<line x1="782.1" y1="1888.1" x2="892.1" y2="1888.1" stroke="#000" stroke-width="2.5" stroke-dasharray="9 7.5" stroke-dashoffset="-3"/>
<path d="M1009.00,1663.6 L1009.00,1679.6 L1008.65,1681.2 L1007.40,1685.2 L1006.98,1686.8 L1006.71,1688.4 L1006.60,1690.0 L1006.60,1699.6 L1006.68,1701.2 L1006.86,1702.4 L1007.13,1703.6 L1008.71,1708.8 L1008.99,1710.0 L1009.00,1710.4 L1009.00,1721.2 L1008.68,1722.8 L1007.30,1728.0 L1006.98,1730.0 L1006.90,1731.6 L1006.90,1741.2 L1006.98,1742.8 L1007.39,1745.2 L1008.68,1750.0 L1009.00,1751.6 L1009.00,1781.2 L1008.96,1781.6 L1008.80,1782.0 L1007.52,1784.4 L1007.17,1785.2 L1006.84,1786.4 L1006.80,1787.2 L1006.80,1823.2 L1006.92,1824.0 L1007.17,1824.8 L1007.52,1825.6 L1008.61,1827.6 L1007.80,1828.4 L1006.78,1829.2 L998.34,1835.2 L992.93,1838.8 L990.84,1840.4 L989.64,1841.6 L988.14,1843.6 L986.80,1845.6 L985.93,1847.2 L985.48,1848.4 L985.23,1849.6 L985.23,1850.8 L985.47,1852.0 L986.49,1855.2 L986.94,1856.4 L989.06,1860.8 L989.74,1862.4 L990.12,1863.6 L990.35,1864.8 L990.37,1866.0 L990.18,1866.8 L989.81,1867.6 L988.96,1868.8 L987.83,1870.0 L985.99,1871.6 L981.27,1875.2 L980.05,1876.0 L976.99,1877.6 L970.80,1880.4 L968.31,1881.6 L962.56,1884.8 L960.08,1886.4 L959.11,1887.2 L957.09,1889.2 L955.94,1890.4 L954.94,1891.6 L954.13,1892.8 L953.74,1893.6 L953.49,1894.4 L953.40,1895.2 L953.53,1896.0 L953.87,1896.8 L954.39,1897.6 L955.38,1898.8 L956.50,1900.0 L957.40,1900.8 L958.57,1901.6 L959.96,1902.4 L963.16,1904.0 L970.10,1907.2 L974.09,1908.8 L985.76,1913.2 L990.48,1915.2 L995.43,1917.6 L999.26,1919.6 L1001.98,1921.2 L1004.30,1922.8 L1005.83,1924.0 L1007.20,1925.2 L1008.40,1926.4 L1008.76,1926.8 L1009.00,1927.2 L1009.00,1936.7 L1009.20,1936.7 L1009.20,1927.2 L1009.44,1926.8 L1009.80,1926.4 L1011.00,1925.2 L1012.37,1924.0 L1013.90,1922.8 L1016.22,1921.2 L1018.94,1919.6 L1022.77,1917.6 L1027.72,1915.2 L1032.44,1913.2 L1044.11,1908.8 L1048.10,1907.2 L1055.04,1904.0 L1058.24,1902.4 L1059.63,1901.6 L1060.80,1900.8 L1061.70,1900.0 L1062.82,1898.8 L1063.81,1897.6 L1064.33,1896.8 L1064.67,1896.0 L1064.80,1895.2 L1064.71,1894.4 L1064.46,1893.6 L1064.07,1892.8 L1063.26,1891.6 L1062.26,1890.4 L1061.11,1889.2 L1059.09,1887.2 L1058.12,1886.4 L1055.64,1884.8 L1049.89,1881.6 L1047.40,1880.4 L1041.21,1877.6 L1038.15,1876.0 L1036.93,1875.2 L1032.21,1871.6 L1030.37,1870.0 L1029.24,1868.8 L1028.39,1867.6 L1028.02,1866.8 L1027.83,1866.0 L1027.85,1864.8 L1028.08,1863.6 L1028.46,1862.4 L1029.14,1860.8 L1031.26,1856.4 L1031.71,1855.2 L1032.73,1852.0 L1032.97,1850.8 L1032.97,1849.6 L1032.72,1848.4 L1032.27,1847.2 L1031.40,1845.6 L1030.06,1843.6 L1028.56,1841.6 L1027.36,1840.4 L1025.27,1838.8 L1019.86,1835.2 L1011.42,1829.2 L1010.40,1828.4 L1009.59,1827.6 L1010.68,1825.6 L1011.03,1824.8 L1011.28,1824.0 L1011.40,1823.2 L1011.40,1787.2 L1011.36,1786.4 L1011.03,1785.2 L1010.68,1784.4 L1009.40,1782.0 L1009.24,1781.6 L1009.20,1781.2 L1009.20,1751.6 L1009.52,1750.0 L1010.81,1745.2 L1011.22,1742.8 L1011.30,1741.2 L1011.30,1731.6 L1011.22,1730.0 L1010.90,1728.0 L1009.52,1722.8 L1009.20,1721.2 L1009.20,1710.4 L1009.21,1710.0 L1009.49,1708.8 L1011.07,1703.6 L1011.34,1702.4 L1011.52,1701.2 L1011.60,1699.6 L1011.60,1690.0 L1011.49,1688.4 L1011.22,1686.8 L1010.80,1685.2 L1009.55,1681.2 L1009.20,1679.6 L1009.20,1663.6Z" fill="#c6dcf7" stroke="#000" stroke-width="2.4" stroke-linejoin="round"/>
<line x1="986.4" y1="1854.9" x2="1031.8" y2="1854.9" stroke="#000" stroke-width="2.5" stroke-dasharray="9 7.5" stroke-dashoffset="-3"/>
<line x1="958.9" y1="1887.4" x2="1059.3" y2="1887.4" stroke="#000" stroke-width="2.5"/>
<line x1="956.5" y1="1900.0" x2="1061.7" y2="1900.0" stroke="#000" stroke-width="2.5" stroke-dasharray="9 7.5" stroke-dashoffset="-3"/>
<path d="M1295.80,1504.8 L1295.80,1525.2 L1295.13,1529.2 L1295.00,1531.2 L1295.01,1545.6 L1295.18,1547.6 L1295.80,1551.2 L1295.80,1695.2 L1295.73,1696.0 L1295.15,1699.6 L1295.00,1702.0 L1295.01,1717.6 L1295.15,1719.2 L1295.73,1722.8 L1295.80,1723.6 L1295.80,1747.2 L1295.78,1747.6 L1295.21,1750.8 L1295.10,1752.8 L1295.12,1765.2 L1295.30,1766.8 L1295.80,1769.6 L1295.80,1788.8 L1295.71,1789.6 L1295.21,1791.6 L1293.02,1798.0 L1292.21,1800.8 L1291.86,1802.4 L1291.67,1803.6 L1291.53,1805.2 L1291.50,1806.4 L1291.51,1808.8 L1291.59,1810.0 L1291.79,1811.6 L1292.11,1813.2 L1292.89,1816.0 L1295.09,1822.4 L1295.53,1824.0 L1295.79,1825.2 L1295.80,1836.4 L1291.75,1839.2 L1289.07,1841.2 L1286.67,1843.2 L1285.00,1844.8 L1281.08,1849.2 L1279.46,1851.2 L1278.65,1852.4 L1278.21,1853.2 L1277.87,1854.0 L1277.63,1854.8 L1277.50,1856.0 L1277.60,1856.8 L1278.00,1858.0 L1278.65,1859.2 L1279.79,1860.8 L1283.06,1864.8 L1285.05,1867.6 L1287.97,1871.2 L1289.02,1872.8 L1289.56,1874.0 L1289.75,1874.8 L1289.80,1875.6 L1289.67,1876.8 L1289.38,1878.0 L1288.94,1879.2 L1288.18,1880.8 L1287.02,1882.8 L1286.45,1883.6 L1285.11,1884.8 L1283.32,1886.0 L1280.47,1887.6 L1275.76,1890.0 L1273.89,1890.8 L1270.76,1892.0 L1258.24,1896.4 L1253.30,1898.4 L1244.83,1901.6 L1242.20,1902.8 L1240.88,1903.6 L1240.38,1904.0 L1240.01,1904.4 L1239.78,1904.8 L1239.70,1905.2 L1239.77,1905.6 L1239.98,1906.0 L1240.31,1906.4 L1241.31,1907.2 L1243.50,1908.4 L1246.27,1909.6 L1252.53,1912.0 L1256.47,1913.6 L1259.75,1914.8 L1264.63,1916.4 L1276.26,1920.0 L1282.14,1922.0 L1285.17,1923.2 L1288.85,1924.8 L1292.24,1926.4 L1295.35,1928.0 L1295.80,1928.4 L1295.80,1938.1 L1296.00,1938.1 L1296.00,1928.4 L1296.45,1928.0 L1299.56,1926.4 L1302.95,1924.8 L1306.63,1923.2 L1309.66,1922.0 L1315.54,1920.0 L1327.17,1916.4 L1332.05,1914.8 L1335.33,1913.6 L1339.27,1912.0 L1345.53,1909.6 L1348.30,1908.4 L1350.49,1907.2 L1351.49,1906.4 L1351.82,1906.0 L1352.03,1905.6 L1352.10,1905.2 L1352.02,1904.8 L1351.79,1904.4 L1351.42,1904.0 L1350.92,1903.6 L1349.60,1902.8 L1346.97,1901.6 L1338.50,1898.4 L1333.56,1896.4 L1321.04,1892.0 L1317.91,1890.8 L1316.04,1890.0 L1311.33,1887.6 L1308.48,1886.0 L1306.69,1884.8 L1305.35,1883.6 L1304.78,1882.8 L1303.62,1880.8 L1302.86,1879.2 L1302.42,1878.0 L1302.13,1876.8 L1302.00,1875.6 L1302.05,1874.8 L1302.24,1874.0 L1302.78,1872.8 L1303.83,1871.2 L1306.75,1867.6 L1308.74,1864.8 L1312.01,1860.8 L1313.15,1859.2 L1313.80,1858.0 L1314.20,1856.8 L1314.30,1856.0 L1314.17,1854.8 L1313.93,1854.0 L1313.59,1853.2 L1313.15,1852.4 L1312.34,1851.2 L1310.72,1849.2 L1306.80,1844.8 L1305.13,1843.2 L1302.73,1841.2 L1300.05,1839.2 L1296.00,1836.4 L1296.01,1825.2 L1296.27,1824.0 L1296.71,1822.4 L1298.78,1816.4 L1299.59,1813.6 L1299.94,1812.0 L1300.13,1810.8 L1300.27,1809.2 L1300.30,1808.0 L1300.25,1804.8 L1300.07,1803.2 L1299.78,1801.6 L1298.91,1798.4 L1296.59,1791.6 L1296.09,1789.6 L1296.00,1788.8 L1296.00,1769.6 L1296.56,1766.4 L1296.70,1764.4 L1296.69,1752.0 L1296.53,1750.4 L1296.02,1747.6 L1296.00,1747.2 L1296.00,1723.6 L1296.07,1722.8 L1296.65,1719.2 L1296.80,1716.8 L1296.79,1701.2 L1296.65,1699.6 L1296.07,1696.0 L1296.00,1695.2 L1296.00,1551.2 L1296.67,1547.2 L1296.80,1545.2 L1296.79,1530.8 L1296.62,1528.8 L1296.00,1525.2 L1296.00,1504.8Z" fill="#b3e8d5" stroke="#000" stroke-width="2.4" stroke-linejoin="round"/>
<line x1="1277.5" y1="1855.9" x2="1314.3" y2="1855.9" stroke="#000" stroke-width="2.2" stroke-dasharray="9 7.5" stroke-dashoffset="-3"/>
<line x1="1239.7" y1="1905.2" x2="1352.1" y2="1905.2" stroke="#000" stroke-width="2.5"/>
<path d="M1467.60,1791.3 L1467.60,1800.1 L1466.95,1802.5 L1466.82,1803.3 L1466.80,1804.1 L1466.81,1809.7 L1466.91,1810.5 L1467.58,1812.9 L1467.60,1813.3 L1467.60,1892.1 L1467.54,1892.5 L1467.24,1892.9 L1466.81,1893.3 L1465.62,1894.1 L1464.09,1894.9 L1461.47,1896.1 L1459.04,1896.9 L1455.78,1897.7 L1449.83,1898.9 L1438.82,1900.9 L1432.86,1901.7 L1419.72,1903.3 L1414.58,1904.1 L1412.81,1904.5 L1411.75,1904.9 L1411.53,1905.3 L1412.14,1905.7 L1413.49,1906.1 L1415.44,1906.5 L1417.88,1906.9 L1433.26,1908.9 L1438.68,1909.7 L1440.77,1910.1 L1442.43,1910.5 L1449.96,1912.5 L1453.91,1913.7 L1457.43,1914.9 L1460.53,1916.1 L1464.01,1917.7 L1465.47,1918.5 L1467.31,1919.7 L1467.60,1920.1 L1467.60,1921.4 L1467.80,1921.4 L1467.80,1920.1 L1468.09,1919.7 L1469.93,1918.5 L1471.39,1917.7 L1474.87,1916.1 L1477.97,1914.9 L1481.49,1913.7 L1485.44,1912.5 L1492.97,1910.5 L1494.63,1910.1 L1496.72,1909.7 L1502.14,1908.9 L1517.52,1906.9 L1519.96,1906.5 L1521.91,1906.1 L1523.26,1905.7 L1523.87,1905.3 L1523.65,1904.9 L1522.59,1904.5 L1520.82,1904.1 L1515.68,1903.3 L1502.54,1901.7 L1496.58,1900.9 L1485.57,1898.9 L1479.62,1897.7 L1476.36,1896.9 L1473.93,1896.1 L1471.31,1894.9 L1469.78,1894.1 L1468.59,1893.3 L1468.16,1892.9 L1467.86,1892.5 L1467.80,1892.1 L1467.80,1813.3 L1467.82,1812.9 L1468.49,1810.5 L1468.59,1809.7 L1468.60,1804.1 L1468.58,1803.3 L1468.45,1802.5 L1467.80,1800.1 L1467.80,1791.3Z" fill="#c6dcf7" stroke="#000" stroke-width="2.4" stroke-linejoin="round"/>
<line x1="1411.5" y1="1905.2" x2="1523.9" y2="1905.2" stroke="#000" stroke-width="4.5"/>
<rect x="263.7" y="1315.0" width="1318.9" height="738.0" fill="none" stroke="#d4d4d4" stroke-width="2.8"/>
<path d="M203.5,267.8 V243.5 H326.8 V267.8" fill="none" stroke="#000" stroke-width="3.9" stroke-linejoin="miter"/>
<path d="M541.2,529.2 V506.3 H664.9 V529.2" fill="none" stroke="#000" stroke-width="2.9" stroke-linejoin="miter"/>
<path d="M874.9,633.6 V609.7 H998.0 V633.6" fill="none" stroke="#000" stroke-width="3.9" stroke-linejoin="miter"/>
<path d="M1216.0,635.2 V612.2 H1339.9 V635.2" fill="none" stroke="#000" stroke-width="2.8" stroke-linejoin="miter"/>
<path d="M1544.7,686.1 V662.7 H1668.0 V686.1" fill="none" stroke="#000" stroke-width="3.9" stroke-linejoin="miter"/>
<path d="M380.9,1718.7 V1696.9 H547.3 V1718.7" fill="none" stroke="#000" stroke-width="2.6" stroke-linejoin="miter"/>
<path d="M838.3,1516.0 V1494.6 H1003.0 V1516.0" fill="none" stroke="#000" stroke-width="2.6" stroke-linejoin="miter"/>
<path d="M1296.0,1493.6 V1466.3 H1478.0 V1493.6" fill="none" stroke="#000" stroke-width="2.6" stroke-linejoin="miter"/>
<rect x="1333.5" y="182.5" width="55" height="38.5" fill="#b3e8d5" stroke="#000" stroke-width="2.5"/>
<rect x="1543.5" y="181" width="59.5" height="41.5" fill="#c6dcf7" stroke="#000" stroke-width="2.5"/>
<text transform="translate(629.0,85.8) scale(0.959,1)" font-size="73" text-anchor="start" letter-spacing="0.18">Interaction behaviors</text>
<text transform="translate(688.4,1273.5) scale(0.959,1)" font-size="73" text-anchor="start" letter-spacing="0.08">Irrelevant behaviors</text>
<text x="206.8" y="993.5" font-size="48" text-anchor="start" letter-spacing="-1.7">Verbal</text>
<text x="161.8" y="1048.5" font-size="48" text-anchor="start" letter-spacing="0.64">interaction</text>
<text x="500.5" y="993.5" font-size="48" text-anchor="start" letter-spacing="-0.04">Nonverbal</text>
<text x="496.3" y="1048.5" font-size="48" text-anchor="start" letter-spacing="0.63">interaction</text>
<text x="848.8" y="996.4" font-size="48" text-anchor="start" letter-spacing="0.46">Listening</text>
<text x="1192.2" y="995.5" font-size="48" text-anchor="start" letter-spacing="-0.28">Leading</text>
<text x="1187.8" y="1049.5" font-size="48" text-anchor="start" letter-spacing="-0.3">behavior</text>
<text x="1565.0" y="997.0" font-size="48" text-anchor="start" letter-spacing="-1.23">Hand</text>
<text x="1550.0" y="1051.2" font-size="48" text-anchor="start" letter-spacing="0.23">raising</text>
<text x="910.1" y="1130.5" font-size="64.5" text-anchor="start" letter-spacing="1.7">(a)</text>
<text x="918.6" y="2286.0" font-size="64.5" text-anchor="start" letter-spacing="1.4">(b)</text>
<text x="162.5" y="215.5" font-size="48" text-anchor="start" letter-spacing="0.54">MD=−1.06</text>
<text x="500.2" y="478.0" font-size="48" text-anchor="start" letter-spacing="0.64">MD=−4.36</text>
<text x="833.7" y="578.2" font-size="48" text-anchor="start" letter-spacing="0.01">MD=−0.02</text>
<text x="1174.1" y="581.0" font-size="48" text-anchor="start" letter-spacing="1.15">MD=1.25</text>
<text x="1491.2" y="631.7" font-size="48" text-anchor="start" letter-spacing="1.2">MD=6.37***</text>
<text x="1405.9" y="215.0" font-size="44" text-anchor="start" letter-spacing="-0.5">Boys</text>
<text x="1620.9" y="215.0" font-size="44" text-anchor="start" letter-spacing="-1.23">Girls</text>
<text transform="translate(33.9,157.2) scale(0.972,1)" font-size="53.5" text-anchor="start" letter-spacing="-1.23">180</text>
<text transform="translate(33.3,355.4) scale(0.972,1)" font-size="53.5" text-anchor="start" letter-spacing="-0.62">130</text>
<text transform="translate(58.4,552.6) scale(0.972,1)" font-size="53.5" text-anchor="start" letter-spacing="-0.31">80</text>
<text transform="translate(58.4,750.3) scale(0.972,1)" font-size="53.5" text-anchor="start" letter-spacing="-0.31">30</text>
<text transform="translate(33.5,946.3) scale(0.972,1)" font-size="53.5" text-anchor="start" letter-spacing="1.03">−20</text>
<text x="206.0" y="1332.3" font-size="50" text-anchor="start" letter-spacing="-0.8">80</text>
<text x="206.0" y="1479.5" font-size="50" text-anchor="start" letter-spacing="-0.8">60</text>
<text x="206.5" y="1626.8" font-size="50" text-anchor="start" letter-spacing="-1.3">40</text>
<text x="206.0" y="1774.2" font-size="50" text-anchor="start" letter-spacing="-0.8">20</text>
<text x="230.2" y="1922.0" font-size="50" text-anchor="start">0</text>
<text x="180.5" y="2065.3" font-size="50" text-anchor="start" letter-spacing="0.4">−20</text>
<text x="1615.3" y="1332.3" font-size="50" text-anchor="start" letter-spacing="-3.0">12</text>
<text x="1614.4" y="1479.7" font-size="50" text-anchor="start">9</text>
<text x="1613.4" y="1627.0" font-size="50" text-anchor="start">6</text>
<text x="1613.6" y="1774.6" font-size="50" text-anchor="start">3</text>
<text x="1613.0" y="1922.0" font-size="50" text-anchor="start">0</text>
<text x="1595.2" y="2061.8" font-size="50" text-anchor="start" letter-spacing="-2.7">−3</text>
<text x="370.4" y="1674.4" font-size="45" text-anchor="start" letter-spacing="1.86">MD=2.61**</text>
<text x="817.2" y="1475.7" font-size="45" text-anchor="start" letter-spacing="1.0">MD=4.38**</text>
<text x="1271.0" y="1429.6" font-size="45" text-anchor="start" letter-spacing="1.13">MD=0.58***</text>
<text transform="translate(367.4,2116.8) scale(0.956,1)" font-size="45" text-anchor="start" letter-spacing="0.95">Irrelevant</text>
<text transform="translate(371.4,2168.6) scale(0.956,1)" font-size="45" text-anchor="start" letter-spacing="1.91">discourse</text>
<text transform="translate(842.5,2116.8) scale(0.956,1)" font-size="45" text-anchor="start" letter-spacing="0.81">Irrelevant</text>
<text transform="translate(872.8,2168.6) scale(0.956,1)" font-size="45" text-anchor="start" letter-spacing="1.59">action</text>
<text transform="translate(1275.1,2116.8) scale(0.956,1)" font-size="45" text-anchor="start" letter-spacing="1.49">Destructive</text>
<text transform="translate(1302.6,2168.6) scale(0.956,1)" font-size="45" text-anchor="start" letter-spacing="0.55">behavior</text>
</svg>
</body></html>
